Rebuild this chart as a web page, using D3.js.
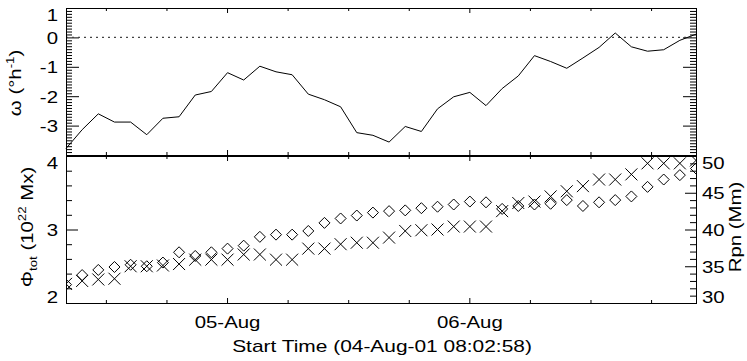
<!DOCTYPE html>
<html>
<head>
<meta charset="utf-8">
<script src="https://cdn.jsdelivr.net/npm/d3@7"></script>
<style>
  body { margin: 0; background: #fff; }
  svg text { font-family: "Liberation Sans", Arial, sans-serif; font-size: 17px; fill: #000; }
</style>
</head>
<body>
<script>
// data, one MDI magnetogram every 96 min
var obsTimes = [
  "2001-08-04T08:03", "2001-08-04T09:39", "2001-08-04T11:15", "2001-08-04T12:51", "2001-08-04T14:27",
  "2001-08-04T16:03", "2001-08-04T17:39", "2001-08-04T19:15", "2001-08-04T20:51", "2001-08-04T22:27",
  "2001-08-05T00:03", "2001-08-05T01:39", "2001-08-05T03:15", "2001-08-05T04:51", "2001-08-05T06:27",
  "2001-08-05T08:03", "2001-08-05T09:39", "2001-08-05T11:15", "2001-08-05T12:51", "2001-08-05T14:27",
  "2001-08-05T16:03", "2001-08-05T17:39", "2001-08-05T19:15", "2001-08-05T20:51", "2001-08-05T22:27",
  "2001-08-06T00:03", "2001-08-06T01:39", "2001-08-06T03:15", "2001-08-06T04:51", "2001-08-06T06:27",
  "2001-08-06T08:03", "2001-08-06T09:39", "2001-08-06T11:15", "2001-08-06T12:51", "2001-08-06T14:27",
  "2001-08-06T16:03", "2001-08-06T17:39", "2001-08-06T19:15", "2001-08-06T20:51", "2001-08-06T22:27"
];
var omega = [
  -3.78, -3.14, -2.60, -2.88, -2.88, -3.31, -2.75, -2.70, -1.96, -1.84,
  -1.20, -1.45, -0.98, -1.17, -1.27, -1.93, -2.12, -2.36, -3.24, -3.33,
  -3.56, -3.03, -3.20, -2.43, -2.02, -1.87, -2.32, -1.74, -1.31, -0.62,
  -0.82, -1.05, -0.70, -0.34, 0.15, -0.32, -0.47, -0.42, -0.10, 0.11
];
// diamonds, left axis
var phiTot = [
  2.25, 2.38, 2.45, 2.49, 2.52, 2.50, 2.55, 2.69, 2.64, 2.69,
  2.74, 2.78, 2.90, 2.93, 2.93, 2.98, 3.09, 3.15, 3.19, 3.23,
  3.25, 3.26, 3.29, 3.31, 3.34, 3.38, 3.37, 3.28, 3.32, 3.34,
  3.35, 3.40, 3.32, 3.37, 3.40, 3.45, 3.58, 3.68, 3.74, 3.83
];
// crosses, right axis
var rpn = [
  32.6, 33.0, 33.2, 33.3, 35.0, 35.0, 35.1, 35.3, 35.9, 35.9,
  35.9, 36.6, 36.6, 35.9, 35.9, 37.4, 37.4, 38.0, 38.2, 38.2,
  38.9, 39.8, 39.9, 40.0, 40.4, 40.4, 40.4, 42.5, 43.6, 43.8,
  44.5, 45.2, 45.9, 46.8, 46.8, 47.5, 49.0, 49.0, 49.0, 49.4
];
var omegaTicks = [1, 0, -1, -2, -3, -4];
var phiTicks = [2, 3, 4];
var rpnTicks = [30, 35, 40, 45, 50];
var xTitle = "Start Time (04-Aug-01 08:02:58)";

var svgWidth = 747, svgHeight = 361;
var left = 66, right = 696;
var topPanel = {top: 8, bottom: 155};
var botPanel = {top: 156, bottom: 303};
var stretch = 1.2; // the IDL font is wider than Helvetica

var parseTime = d3.utcParse("%Y-%m-%dT%H:%M");
var times = obsTimes.map(parseTime);

var svg = d3.select("body").append("svg")
  .attr("width", svgWidth)
  .attr("height", svgHeight);

// scales
var xScale = d3.scaleUtc()
  .domain([parseTime("2001-08-04T08:03"), parseTime("2001-08-06T22:27")])
  .range([left, right]);
var yOmega = d3.scaleLinear().domain([-4, 1]).range([topPanel.bottom, topPanel.top]);
var yPhi = d3.scaleLinear().domain([2, 4]).range([botPanel.bottom, botPanel.top]);
var yRpn = d3.scaleLinear().domain([30, 50]).range([botPanel.bottom, botPanel.top]);

var dayTicks = xScale.ticks(d3.utcDay);
var sixHourTicks = xScale.ticks(d3.utcHour.every(6))
  .filter(d => d.getUTCHours() !== 0);

// put axis on, drop the domain line (frames drawn separately)
function drawAxis(g, axis) {
  g.call(axis);
  g.select(".domain").remove();
  g.selectAll("line").attr("stroke", "#000");
  return g;
}

// stretch text sideways around its anchor point
function widen(sel) {
  sel.each(function() {
    var t = d3.select(this);
    var x = +t.attr("x") || 0, y = +t.attr("y") || 0;
    t.attr("x", 0).attr("y", 0)
      .attr("transform", `translate(${x},${y}) scale(${stretch},1)`);
  });
}

// labels on the panel ends get pushed inside like IDL does
function nudgeEnds(g, lo, hi) {
  g.selectAll(".tick text")
    .attr("dy", "0.36em")
    .attr("y", d => d === hi ? 6.5 : (d === lo ? -7 : 0));
  widen(g.selectAll(".tick text"));
}

function minorOf(scale, step, majors) {
  var dom = scale.domain();
  var out = [];
  for (var v = dom[0]; v <= dom[1] + 1e-9; v += step) {
    var r = Math.round(v * 1000) / 1000;
    if (majors.indexOf(r) < 0) out.push(r);
  }
  return out;
}

// ---- top panel ----
var omegaMinor = minorOf(yOmega, 0.1, omegaTicks);

var gl = svg.append("g").attr("transform", `translate(${left},0)`);
drawAxis(gl, d3.axisLeft(yOmega).tickValues(omegaTicks).tickSize(-13).tickPadding(8)
  .tickFormat(d => d === -4 ? "" : String(d)));
nudgeEnds(gl, -4, 1);
drawAxis(svg.append("g").attr("transform", `translate(${left},0)`),
  d3.axisLeft(yOmega).tickValues(omegaMinor).tickSize(-6).tickFormat(""));
drawAxis(svg.append("g").attr("transform", `translate(${right},0)`),
  d3.axisRight(yOmega).tickValues(omegaTicks).tickSize(-13).tickFormat(""));
drawAxis(svg.append("g").attr("transform", `translate(${right},0)`),
  d3.axisRight(yOmega).tickValues(omegaMinor).tickSize(-6).tickFormat(""));

[[topPanel.top, d3.axisTop], [topPanel.bottom, d3.axisBottom],
 [botPanel.top, d3.axisTop], [botPanel.bottom, d3.axisBottom]].forEach(function(p) {
  drawAxis(svg.append("g").attr("transform", `translate(0,${p[0]})`),
    p[1](xScale).tickValues(dayTicks).tickSize(-5).tickFormat(""));
  drawAxis(svg.append("g").attr("transform", `translate(0,${p[0]})`),
    p[1](xScale).tickValues(sixHourTicks).tickSize(-3).tickFormat(""));
});

// zero line
svg.append("line")
  .attr("x1", left).attr("x2", right)
  .attr("y1", yOmega(0)).attr("y2", yOmega(0))
  .attr("stroke", "#444")
  .attr("stroke-width", 1.2)
  .attr("stroke-dasharray", "2,4");

var omegaLine = d3.line()
  .x((d, i) => xScale(times[i]))
  .y(d => yOmega(d));

svg.append("path")
  .datum(omega)
  .attr("d", omegaLine)
  .attr("fill", "none")
  .attr("stroke", "#000")
  .attr("stroke-width", 1);

svg.append("rect")
  .attr("x", left + 0.5).attr("y", topPanel.top + 0.5)
  .attr("width", right - left).attr("height", topPanel.bottom - topPanel.top)
  .attr("fill", "none").attr("stroke", "#000");

// ---- bottom panel ----
var gp = svg.append("g").attr("transform", `translate(${left},0)`);
drawAxis(gp, d3.axisLeft(yPhi).tickValues(phiTicks).tickSize(-12).tickPadding(8)
  .tickFormat(d => String(d)));
nudgeEnds(gp, 2, 4);
drawAxis(svg.append("g").attr("transform", `translate(${left},0)`),
  d3.axisLeft(yPhi).tickValues(minorOf(yPhi, 0.2, phiTicks)).tickSize(-6).tickFormat(""));

var gr = svg.append("g").attr("transform", `translate(${right},0)`);
drawAxis(gr, d3.axisRight(yRpn).tickValues(rpnTicks).tickSize(-11).tickPadding(6)
  .tickFormat(d => String(d)));
nudgeEnds(gr, 30, 50);
drawAxis(svg.append("g").attr("transform", `translate(${right},0)`),
  d3.axisRight(yRpn).tickValues(minorOf(yRpn, 1, rpnTicks)).tickSize(-6).tickFormat(""));

// day labels
var gx = svg.append("g").attr("transform", `translate(0,${botPanel.bottom})`);
gx.call(d3.axisBottom(xScale).tickValues(dayTicks).tickSize(0).tickPadding(13)
  .tickFormat(d3.utcFormat("%d-%b")));
gx.select(".domain").remove();
widen(gx.selectAll(".tick text"));

svg.append("clipPath").attr("id", "botClip")
  .append("rect")
  .attr("x", left).attr("y", botPanel.top)
  .attr("width", right - left).attr("height", botPanel.bottom - botPanel.top);

var marks = svg.append("g").attr("clip-path", "url(#botClip)");

marks.selectAll(".diamond")
  .data(phiTot)
  .enter()
  .append("path")
  .attr("class", "diamond")
  .attr("transform", (d, i) => `translate(${xScale(times[i])},${yPhi(d)})`)
  .attr("d", "M0,-5.5L5.5,0L0,5.5L-5.5,0Z")
  .attr("fill", "none")
  .attr("stroke", "#000")
  .attr("stroke-width", 1);

marks.selectAll(".cross")
  .data(rpn)
  .enter()
  .append("path")
  .attr("class", "cross")
  .attr("transform", (d, i) => `translate(${xScale(times[i])},${yRpn(d)})`)
  .attr("d", "M-6,-6L6,6M-6,6L6,-6")
  .attr("fill", "none")
  .attr("stroke", "#000")
  .attr("stroke-width", 1);

svg.append("rect")
  .attr("x", left + 0.5).attr("y", botPanel.top + 0.5)
  .attr("width", right - left).attr("height", botPanel.bottom - botPanel.top)
  .attr("fill", "none").attr("stroke", "#000");

// ---- titles ----
svg.append("text")
  .attr("transform", `translate(${(left + right) / 2 + 1},352) scale(${stretch + 0.03},1)`)
  .attr("text-anchor", "middle")
  .text(xTitle);

var wLab = svg.append("text")
  .attr("transform", `translate(21,83) rotate(-90) scale(${stretch},1)`)
  .attr("text-anchor", "middle");
wLab.append("tspan").text("\u03c9 (\u00b0h");
wLab.append("tspan").attr("dy", -7).style("font-size", "11px").text("-1");
wLab.append("tspan").attr("dy", 7).text(")");

var pLab = svg.append("text")
  .attr("transform", `translate(33,227) rotate(-90) scale(${stretch},1)`)
  .attr("text-anchor", "middle");
pLab.append("tspan").text("\u03a6");
pLab.append("tspan").attr("dy", 4).style("font-size", "11px").text("tot");
pLab.append("tspan").attr("dy", -4).text(" (10");
pLab.append("tspan").attr("dy", -7).style("font-size", "11px").text("22");
pLab.append("tspan").attr("dy", 7).text(" Mx)");

svg.append("text")
  .attr("transform", `translate(741,227) rotate(-90) scale(${stretch},1)`)
  .attr("text-anchor", "middle")
  .text("Rpn (Mm)");
</script>
</body>
</html>
